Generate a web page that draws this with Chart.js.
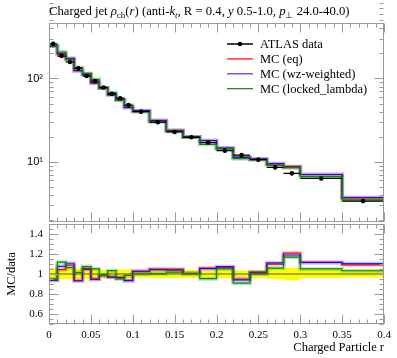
<!DOCTYPE html>
<html>
<head>
<meta charset="utf-8">
<script src="https://cdn.jsdelivr.net/npm/chart.js@4"></script>
<style>
  body { margin: 0; background: #fff; }
  #wrap { position: relative; width: 397px; height: 358px; }
  canvas { position: absolute; left: 0; }
  #main { top: 0; }
  #ratio { top: 220px; }
</style>
</head>
<body>
<div id="wrap">
  <canvas id="main" width="397" height="226"></canvas>
  <canvas id="ratio" width="397" height="138"></canvas>
</div>
<script>
// bin edges in r
const edges = [0, 0.01, 0.02, 0.03, 0.04, 0.05, 0.06, 0.07, 0.08, 0.09, 0.1,
  0.12, 0.14, 0.16, 0.18, 0.2, 0.22, 0.24, 0.26, 0.28, 0.3, 0.35, 0.4];
const atlasData = [261, 186, 158, 133, 107, 93, 78, 65.6, 58, 48, 40,
  29.9, 22.8, 19.7, 17.0, 13.6, 12.0, 10.6, 8.55, 7.26, 6.3, 3.37];
// relative uncertainty of the data (yellow band)
const atlasRelErr = [0.06, 0.05, 0.05, 0.055, 0.05, 0.05, 0.04, 0.04, 0.045, 0.045, 0.035,
  0.04, 0.04, 0.04, 0.035, 0.04, 0.035, 0.04, 0.05, 0.06, 0.04, 0.035];
const mcEq = [245, 194, 172, 124, 113, 88.4, 76.9, 63.6, 56.0, 44.9, 41.1,
  31.4, 23.9, 19.8, 18.0, 14.5, 11.4, 10.7, 9.4, 8.78, 7.03, 3.68];
const mcWz = [245, 200, 175, 124, 112, 87.9, 76.9, 63.6, 55.7, 44.8, 41.1,
  31.2, 23.7, 19.8, 17.9, 14.6, 11.3, 10.8, 9.5, 8.64, 7.03, 3.72];
const mcLocked = [248, 208, 168, 135, 115, 97.7, 76.9, 67.8, 55.1, 47.3, 40.0,
  30.0, 23.2, 19.8, 16.2, 14.3, 10.9, 10.6, 9.06, 8.49, 6.62, 3.48];

const xTicks = [0, 0.05, 0.1, 0.15, 0.2, 0.25, 0.3, 0.35, 0.4];
const mainYTicks = [10, 100];
const ratioYTicks = [0.6, 0.8, 1, 1.2, 1.4];

const RED = "rgb(255,0,0)", BLUE = "rgba(0,0,255,0.8)", GREEN = "rgb(0,140,0)";
const SERIF = "'Liberation Serif', serif";

function stepPts(vals) {
  const p = vals.map((v, i) => ({x: edges[i], y: v}));
  p.push({x: edges[edges.length - 1], y: vals[vals.length - 1]});
  return p;
}
function centres() { return atlasData.map((v, i) => (edges[i] + edges[i + 1]) / 2); }

// horizontal data segments (x error bars), broken by nulls
function dataSegs() {
  const p = [];
  atlasData.forEach((v, i) => { p.push({x: edges[i], y: v}, {x: edges[i + 1], y: v}, {x: edges[i + 1], y: null}); });
  return p;
}
function dataErrs() {
  const p = [], c = centres();
  atlasData.forEach((v, i) => {
    const e = v * atlasRelErr[i];
    p.push({x: c[i], y: v - e}, {x: c[i], y: v + e}, {x: c[i], y: null});
  });
  return p;
}

function stepLine(label, vals, color, width, order) {
  return {label, data: stepPts(vals), stepped: true, borderColor: color, borderWidth: width,
    pointRadius: 0, fill: false, order};
}

// no label overflow padding, fixed axis size
function fixAxis(size) {
  return s => {
    if (s.isHorizontal()) s.height = size; else s.width = size;
    s.paddingTop = 0; s.paddingBottom = 0; s.paddingLeft = 0; s.paddingRight = 0;
  };
}

// frame with inner ticks, Rivet style
function frameTicks(xMinor, yMajor, yMinor) {
  return {
    id: "frameTicks",
    afterDatasetsDraw(chart) {
      const {ctx, chartArea: a, scales} = chart;
      ctx.save();
      ctx.strokeStyle = "#999";
      ctx.lineWidth = 1;
      const L = Math.round(a.left) + 0.5, R = Math.round(a.right) - 0.5;
      const T = Math.round(a.top) + 0.5, B = Math.round(a.bottom) - 0.5;
      ctx.strokeRect(L, T, R - L, B - T);
      ctx.beginPath();
      const xt = (v, len) => {
        const px = Math.round(scales.x.getPixelForValue(v)) + 0.5;
        ctx.moveTo(px, B); ctx.lineTo(px, B - len);
        ctx.moveTo(px, T); ctx.lineTo(px, T + len);
      };
      const yt = (v, len) => {
        const py = Math.round(scales.y.getPixelForValue(v)) + 0.5;
        ctx.moveTo(L, py); ctx.lineTo(L + len, py);
        ctx.moveTo(R, py); ctx.lineTo(R - len, py);
      };
      xTicks.forEach(v => xt(v, 9));
      xMinor.forEach(v => xt(v, 4));
      yMajor.forEach(v => yt(v, 9));
      yMinor.forEach(v => yt(v, 4));
      ctx.stroke();
      ctx.restore();
    }
  };
}

const xMinor = [];
for (let i = 1; i < 40; i++) if (i % 5) xMinor.push(i / 100);
const mainMinor = [];
[1, 10, 100].forEach(d => { for (let k = 2; k <= 9; k++) mainMinor.push(k * d); });
const ratioMinor = [];
for (let i = 10; i <= 30; i++) if (i % 4) ratioMinor.push(i / 20);

const titlePlugin = {
  id: "title",
  afterDraw(chart) {
    const ctx = chart.ctx;
    const parts = [
      ["Charged jet ", ""], ["ρ", "italic "], ["ch", "sub"], ["(", ""], ["r", "italic "],
      [") (anti-", ""], ["k", "italic "], ["t", "isub"], [", R = 0.4, ", ""], ["y", "italic "],
      [" 0.5-1.0, ", ""], ["p", "italic "], ["⊥", "sub"], [" 24.0-40.0)", ""]
    ];
    let x = 49;
    const base = 15;
    ctx.save();
    ctx.fillStyle = "#000";
    ctx.textBaseline = "alphabetic";
    parts.forEach(([t, s]) => {
      let y = base;
      if (s === "sub" || s === "isub") {
        ctx.font = (s === "isub" ? "italic " : "") + "9px " + SERIF;
        y = base + 2.5;
      } else {
        ctx.font = s + "12.7px " + SERIF;
      }
      ctx.fillText(t, x, y);
      x += ctx.measureText(t).width;
    });
    ctx.restore();
  }
};

const legendPlugin = {
  id: "legendBox",
  afterDraw(chart) {
    const ctx = chart.ctx;
    const rows = [["ATLAS data", "#000", true], ["MC (eq)", RED, false],
      ["MC (wz-weighted)", BLUE, false], ["MC (locked_lambda)", GREEN, false]];
    ctx.save();
    ctx.font = "12.5px " + SERIF;
    ctx.textBaseline = "middle";
    rows.forEach(([t, c, dot], i) => {
      const y = 44 + i * 14.9;
      ctx.strokeStyle = c;
      ctx.lineWidth = dot ? 1.5 : 1.2;
      ctx.beginPath(); ctx.moveTo(227, y); ctx.lineTo(253, y); ctx.stroke();
      if (dot) { ctx.fillStyle = "#000"; ctx.beginPath(); ctx.arc(240, y, 2.3, 0, 2 * Math.PI); ctx.fill(); }
      ctx.fillStyle = "#000";
      ctx.fillText(t, 260, y + 1);
    });
    ctx.restore();
  }
};

new Chart(document.getElementById("main"), {
  type: "line",
  data: {
    datasets: [
      {label: "ATLAS data", data: centres().map((c, i) => ({x: c, y: atlasData[i]})), showLine: false,
        pointRadius: 2.3, pointBackgroundColor: "#000", pointBorderWidth: 0, order: 0},
      {label: "data bins", data: dataSegs(), borderColor: "#000", borderWidth: 1.3, pointRadius: 0, spanGaps: false, order: 1},
      {label: "data err", data: dataErrs(), borderColor: "#000", borderWidth: 1.2, pointRadius: 0, spanGaps: false, order: 1},
      stepLine("MC (locked_lambda)", mcLocked, GREEN, 1.2, 2),
      stepLine("MC (wz-weighted)", mcWz, BLUE, 1.2, 3),
      stepLine("MC (eq)", mcEq, RED, 1.2, 4),
      stepLine("band g", mcLocked, "rgba(0,140,0,0.25)", 4, 5),
      stepLine("band b", mcWz, "rgba(0,0,255,0.2)", 4, 6),
      stepLine("band r", mcEq, "rgba(255,0,0,0.2)", 4, 7)
    ]
  },
  options: {
    responsive: false,
    animation: false,
    layout: {padding: {left: 0, right: 13, top: 23, bottom: 2}},
    plugins: {legend: {display: false}, tooltip: {enabled: false}},
    scales: {
      x: {type: "linear", min: 0, max: 0.4, display: false, afterFit: fixAxis(0)},
      y: {
        type: "logarithmic", min: 1.89, max: 464,
        afterBuildTicks: s => { s.ticks = mainYTicks.map(v => ({value: v})); },
        afterFit: fixAxis(49),
        grid: {display: false, drawTicks: false},
        border: {display: false},
        ticks: {padding: 6, color: "#000", font: {family: "'Liberation Sans', sans-serif", size: 11},
          callback: v => v === 100 ? "10²" : "10¹"}
      }
    }
  },
  plugins: [frameTicks(xMinor, mainYTicks, mainMinor), titlePlugin, legendPlugin]
});

const ratioOf = arr => arr.map((v, i) => v / atlasData[i]);
const ones = atlasData.map(() => 1);

new Chart(document.getElementById("ratio"), {
  type: "line",
  data: {
    datasets: [
      stepLine("band lo", atlasRelErr.map(e => 1 - e), "rgba(0,0,0,0)", 0, 10),
      Object.assign(stepLine("band hi", atlasRelErr.map(e => 1 + e), "rgba(0,0,0,0)", 0, 9),
        {fill: "-1", backgroundColor: "rgb(255,255,0)"}),
      stepLine("data", ones, "#555", 1, 1),
      stepLine("MC (locked_lambda)", ratioOf(mcLocked), GREEN, 1.2, 2),
      stepLine("MC (wz-weighted)", ratioOf(mcWz), BLUE, 1.2, 3),
      stepLine("MC (eq)", ratioOf(mcEq), RED, 1.2, 4),
      stepLine("band g", ratioOf(mcLocked), "rgba(0,140,0,0.25)", 4, 5),
      stepLine("band b", ratioOf(mcWz), "rgba(0,0,255,0.2)", 4, 6),
      stepLine("band r", ratioOf(mcEq), "rgba(255,0,0,0.2)", 4, 7)
    ]
  },
  options: {
    responsive: false,
    animation: false,
    layout: {padding: {left: 0, right: 13, top: 4, bottom: 0}},
    plugins: {legend: {display: false}, tooltip: {enabled: false}, filler: {propagate: false}},
    scales: {
      x: {
        type: "linear", min: 0, max: 0.4,
        afterBuildTicks: s => { s.ticks = xTicks.map(v => ({value: v})); },
        afterFit: fixAxis(34),
        grid: {display: false, drawTicks: false},
        border: {display: false},
        ticks: {padding: 5, color: "#000", maxRotation: 0, font: {family: SERIF, size: 11},
          callback: v => String(parseFloat(v.toFixed(2)))},
        title: {display: true, text: "Charged Particle r", align: "end", color: "#000",
          font: {family: SERIF, size: 12.5}, padding: {top: 0, bottom: 3}}
      },
      y: {
        type: "linear", min: 0.5, max: 1.5,
        afterBuildTicks: s => { s.ticks = ratioYTicks.map(v => ({value: v})); },
        afterFit: fixAxis(49),
        grid: {display: false, drawTicks: false},
        border: {display: false},
        ticks: {padding: 6, color: "#000", font: {family: SERIF, size: 11},
          callback: v => String(parseFloat(v.toFixed(1)))},
        title: {display: true, text: "MC/data", color: "#000", font: {family: SERIF, size: 12.5},
          padding: {top: 4, bottom: 0}}
      }
    }
  },
  plugins: [frameTicks(xMinor, ratioYTicks, ratioMinor)]
});
</script>
</body>
</html>
